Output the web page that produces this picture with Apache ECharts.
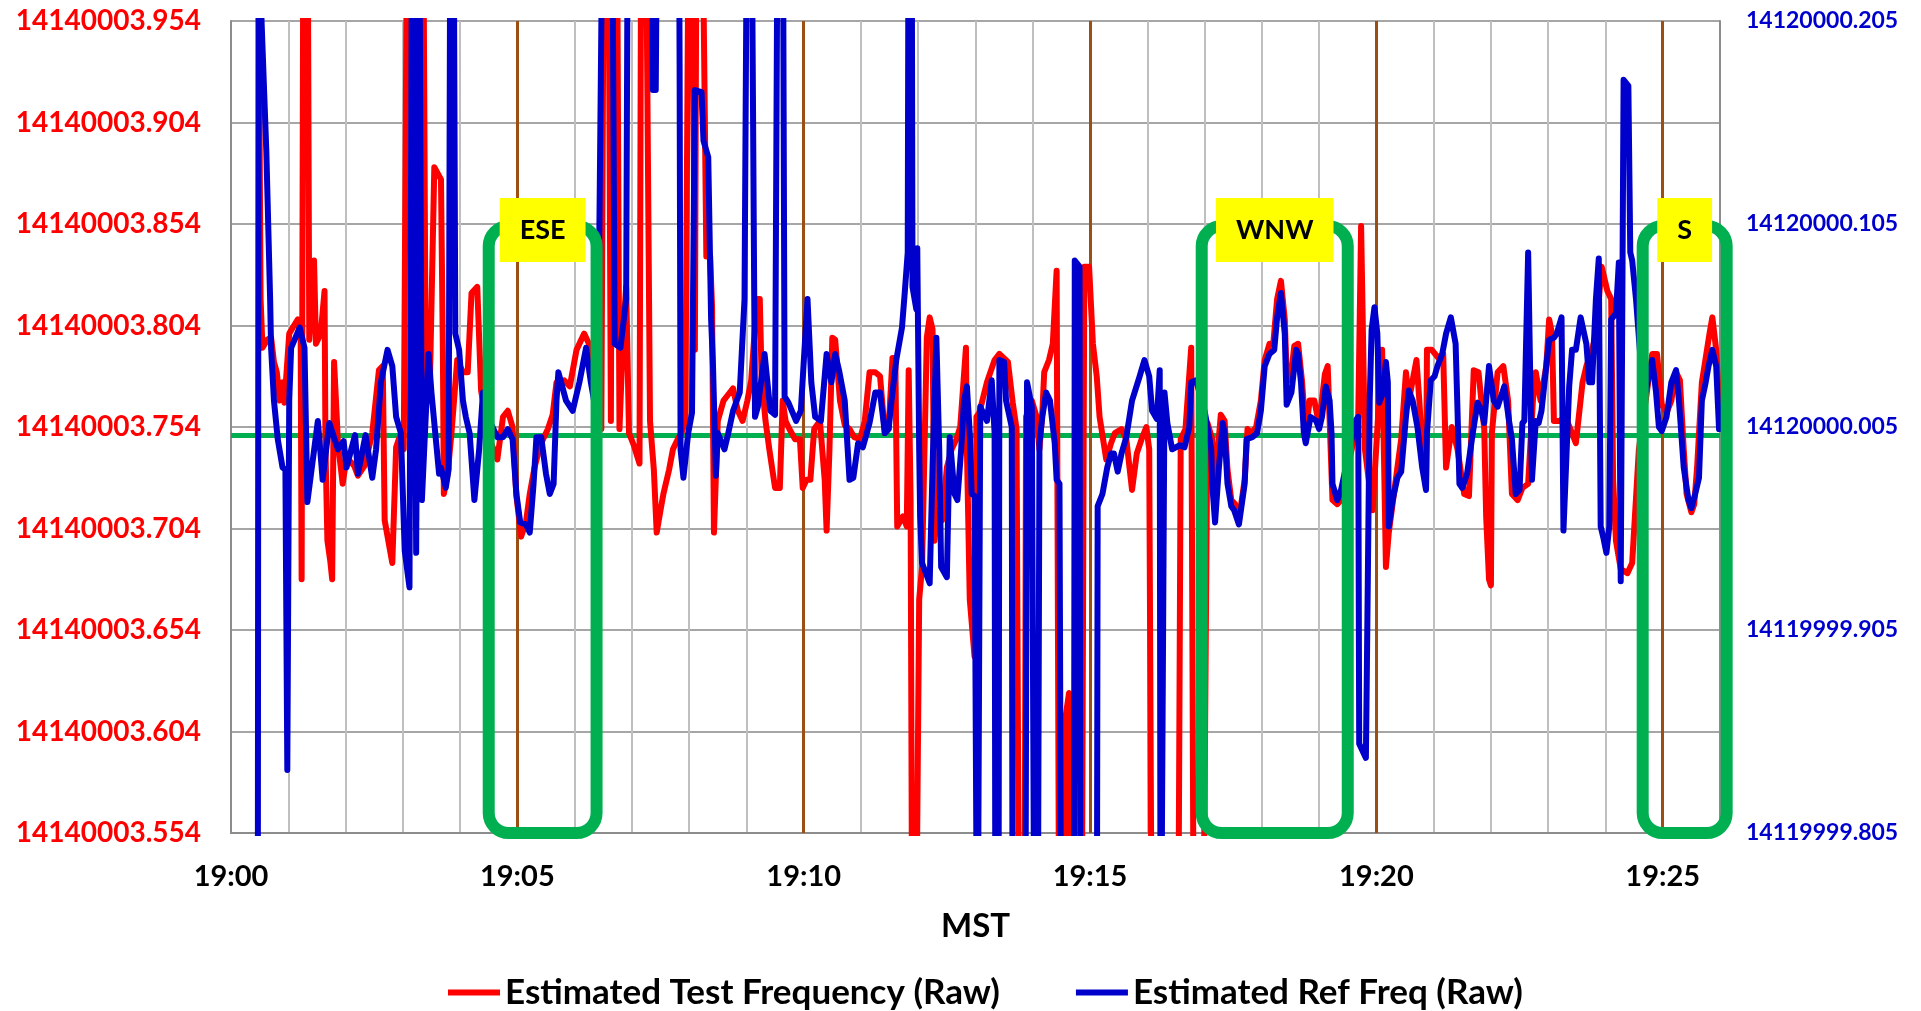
<!DOCTYPE html>
<html style="height: 100%">
<head>
    <meta charset="UTF-8">
    <title>Estimated Test / Ref Frequency</title>
</head>
<body style="height: 100%; margin: 0; background: #fff">
<div id="container" style="width: 1921px; height: 1011px"></div>

<script type="text/javascript" src="https://cdn.jsdelivr.net/npm/echarts@6/dist/echarts.min.js"></script>
<script type="text/javascript">
    // time = seconds after 19:00:00 MST
    // values above / below the axis range are spikes that run off the plot
    var testSec = [28,31,33,38,42,45,48,51,54,56,61,66,70,73,74,76,80,82,87,89,94,98,99,101,104,106,108,111,112,117,121,129,133,140,148,155,159,161,169,173,178,181,185,191,194,197,201,204,208,213,220,222,223,227,231,237,243,248,252,258,262,271,279,285,290,295,299,304,309,313,318,324,332,337,341,349,355,362,370,375,379,384,388,391,395,398,400,404,407,411,414,417,422,428,430,434,439,443,446,450,453,459,463,468,472,476,480,483,486,488,493,496,498,502,504,506,508,510,516,521,526,531,536,541,545,551,554,556,560,564,570,575,578,581,585,591,596,599,603,607,611,617,622,624,627,630,633,638,643,648,653,659,664,669,675,680,685,689,693,696,698,704,708,710,712,714,717,721,724,729,732,735,737,740,745,750,755,760,764,770,771,774,779,781,784,792,800,805,814,819,823,826,831,833,839,844,847,850,852,857,861,865,868,872,874,878,880,891,894,899,903,907,910,917,922,926,933,938,944,949,954,959,962,965,992,995,1000,1006,1009,1018,1023,1028,1031,1034,1037,1041,1044,1048,1052,1056,1062,1065,1069,1074,1079,1083,1088,1092,1096,1100,1104,1106,1110,1114,1118,1122,1126,1130,1135,1140,1146,1149,1154,1159,1163,1172,1181,1184,1186,1188,1196,1201,1206,1210,1213,1222,1226,1231,1234,1242,1245,1248,1252,1253,1258,1265,1270,1273,1279,1285,1292,1297,1302,1307,1313,1315,1318,1320,1321,1327,1333,1338,1342,1348,1353,1359,1364,1367,1372,1378,1381,1384,1386,1392,1398,1405,1409,1416,1420,1425,1430,1436,1442,1446,1448,1451,1456,1463,1468,1475,1489,1494,1499,1504,1509,1514,1518,1522,1525,1530,1533,1536,1541,1549,1552,1556,1559];
    var testFreq = [14140004.05,14140003.817,14140003.793,14140003.797,14140003.798,14140003.786,14140003.781,14140003.767,14140003.776,14140003.766,14140003.800,14140003.804,14140003.807,14140003.797,14140003.679,14140004.05,14140004.05,14140003.797,14140003.836,14140003.795,14140003.800,14140003.821,14140003.743,14140003.698,14140003.688,14140003.679,14140003.786,14140003.757,14140003.746,14140003.726,14140003.739,14140003.735,14140003.730,14140003.735,14140003.751,14140003.782,14140003.784,14140003.708,14140003.687,14140003.744,14140003.751,14140003.743,14140004.05,14140004.05,14140003.708,14140004.05,14140004.05,14140003.777,14140003.767,14140003.882,14140003.876,14140003.790,14140003.721,14140003.731,14140003.751,14140003.787,14140003.781,14140003.781,14140003.820,14140003.823,14140003.772,14140003.748,14140003.738,14140003.759,14140003.762,14140003.754,14140003.720,14140003.700,14140003.707,14140003.721,14140003.734,14140003.745,14140003.753,14140003.760,14140003.776,14140003.777,14140003.774,14140003.792,14140003.800,14140003.795,14140003.776,14140003.753,14140003.753,14140004.05,14140004.05,14140003.757,14140004.05,14140004.05,14140003.753,14140003.802,14140003.823,14140003.751,14140003.745,14140003.736,14140004.05,14140004.05,14140003.757,14140003.733,14140003.702,14140003.713,14140003.721,14140003.733,14140003.743,14140003.748,14140003.751,14140003.757,14140004.05,14140004.05,14140003.792,14140004.05,14140004.05,14140003.925,14140003.838,14140003.838,14140003.813,14140003.702,14140003.702,14140003.757,14140003.767,14140003.770,14140003.773,14140003.762,14140003.757,14140003.767,14140003.777,14140003.817,14140003.817,14140003.777,14140003.757,14140003.743,14140003.724,14140003.724,14140003.767,14140003.757,14140003.753,14140003.748,14140003.748,14140003.724,14140003.728,14140003.728,14140003.753,14140003.757,14140003.728,14140003.703,14140003.743,14140003.798,14140003.797,14140003.767,14140003.755,14140003.753,14140003.749,14140003.748,14140003.757,14140003.781,14140003.781,14140003.779,14140003.751,14140003.753,14140003.788,14140003.788,14140003.705,14140003.710,14140003.705,14140003.782,14140003.718,14140003.45,14140003.45,14140003.669,14140003.685,14140003.798,14140003.808,14140003.802,14140003.698,14140003.713,14140003.708,14140003.734,14140003.743,14140003.748,14140003.754,14140003.793,14140003.743,14140003.669,14140003.641,14140003.759,14140003.761,14140003.776,14140003.787,14140003.790,14140003.786,14140003.766,14140003.753,14140003.45,14140003.45,14140003.759,14140003.767,14140003.759,14140003.743,14140003.761,14140003.781,14140003.787,14140003.795,14140003.831,14140003.45,14140003.45,14140003.610,14140003.623,14140003.45,14140003.45,14140003.833,14140003.833,14140003.795,14140003.779,14140003.759,14140003.738,14140003.746,14140003.751,14140003.753,14140003.748,14140003.723,14140003.741,14140003.748,14140003.754,14140003.743,14140003.45,14140003.45,14140003.748,14140003.753,14140003.793,14140003.45,14140003.45,14140003.756,14140003.748,14140003.723,14140003.743,14140003.760,14140003.757,14140003.733,14140003.718,14140003.716,14140003.708,14140003.728,14140003.753,14140003.751,14140003.754,14140003.767,14140003.787,14140003.795,14140003.795,14140003.817,14140003.826,14140003.807,14140003.780,14140003.777,14140003.794,14140003.795,14140003.777,14140003.751,14140003.767,14140003.767,14140003.755,14140003.780,14140003.784,14140003.718,14140003.716,14140003.718,14140003.738,14140003.759,14140003.853,14140003.853,14140003.743,14140003.713,14140003.753,14140003.792,14140003.685,14140003.702,14140003.734,14140003.748,14140003.781,14140003.767,14140003.787,14140003.767,14140003.743,14140003.724,14140003.792,14140003.792,14140003.788,14140003.790,14140003.734,14140003.754,14140003.743,14140003.721,14140003.720,14140003.782,14140003.781,14140003.753,14140003.710,14140003.679,14140003.676,14140003.751,14140003.781,14140003.784,14140003.767,14140003.721,14140003.718,14140003.724,14140003.726,14140003.767,14140003.781,14140003.767,14140003.784,14140003.807,14140003.800,14140003.757,14140003.757,14140003.759,14140003.751,14140003.746,14140003.776,14140003.784,14140003.790,14140003.800,14140003.833,14140003.821,14140003.817,14140003.728,14140003.698,14140003.684,14140003.682,14140003.687,14140003.743,14140003.790,14140003.790,14140003.765,14140003.761,14140003.767,14140003.781,14140003.777,14140003.743,14140003.721,14140003.712,14140003.716,14140003.734,14140003.776,14140003.800,14140003.808,14140003.792,14140003.767];

    var refSec = [28,29,32,37,41,42,45,49,54,57,59,61,63,72,77,80,91,96,103,112,118,121,130,133,141,148,152,157,164,169,173,178,182,187,190,194,197,200,207,210,215,218,220,225,228,230,233,235,239,243,246,250,255,260,264,271,279,285,290,295,299,303,309,313,317,320,325,330,334,338,341,343,347,351,358,365,372,377,384,390,399,402,408,414,416,440,442,445,447,469,470,471,474,479,483,486,493,495,500,503,505,508,510,517,521,526,533,538,541,545,549,552,559,565,570,573,578,580,584,592,597,604,608,612,618,624,629,633,637,643,648,652,657,662,669,675,680,685,689,692,697,703,706,709,710,713,714,718,719,721,722,724,732,735,739,742,744,750,753,758,761,765,768,771,774,776,779,782,785,792,797,800,801,804,805,810,812,818,819,832,834,839,842,845,847,850,854,858,863,865,868,870,883,884,889,890,907,908,913,918,922,925,929,933,938,944,952,957,962,965,970,973,974,976,978,981,986,994,999,1004,1006,1011,1020,1023,1027,1028,1031,1035,1039,1041,1044,1048,1051,1056,1062,1064,1070,1075,1079,1083,1088,1093,1096,1100,1104,1106,1111,1116,1118,1121,1124,1126,1131,1137,1140,1143,1147,1151,1153,1154,1159,1163,1172,1178,1181,1182,1189,1190,1193,1195,1198,1201,1203,1207,1210,1212,1213,1217,1222,1226,1231,1234,1238,1243,1248,1252,1253,1257,1261,1264,1269,1273,1278,1283,1285,1287,1290,1295,1301,1306,1310,1313,1318,1323,1327,1334,1339,1342,1346,1350,1353,1355,1359,1361,1363,1367,1370,1373,1378,1381,1386,1389,1394,1396,1399,1402,1405,1409,1414,1420,1423,1426,1430,1433,1435,1438,1441,1444,1446,1451,1454,1456,1459,1464,1466,1468,1472,1480,1489,1493,1496,1499,1504,1509,1514,1517,1522,1527,1530,1534,1538,1541,1545,1548,1552,1556,1559];
    var refFreq = [14119999.70,14120000.30,14120000.205,14120000.141,14120000.068,14120000.044,14120000.018,14119999.999,14119999.985,14119999.984,14119999.836,14120000.018,14120000.044,14120000.054,14120000.044,14119999.968,14120000.008,14119999.979,14120000.007,14119999.994,14119999.998,14119999.985,14120000.001,14119999.982,14120000.001,14119999.980,14119999.994,14120000.027,14120000.043,14120000.035,14120000.010,14120000.002,14119999.944,14119999.926,14120000.30,14119999.943,14120000.30,14119999.969,14120000.041,14120000.022,14119999.997,14119999.982,14119999.985,14119999.975,14119999.984,14120000.30,14120000.30,14120000.051,14120000.043,14120000.018,14120000.010,14120000.002,14119999.969,14119999.994,14120000.022,14120000.008,14120000.000,14120000.000,14120000.004,14119999.999,14119999.972,14119999.958,14119999.957,14119999.953,14119999.977,14120000.000,14120000.000,14119999.982,14119999.972,14119999.977,14120000.018,14120000.032,14120000.025,14120000.018,14120000.013,14120000.027,14120000.044,14120000.027,14120000.008,14120000.30,14120000.30,14120000.046,14120000.044,14120000.068,14120000.30,14120000.30,14120000.171,14120000.171,14120000.30,14120000.30,14120000.184,14119999.994,14119999.980,14120000.002,14120000.012,14120000.171,14120000.170,14120000.146,14120000.138,14120000.058,14120000.035,14119999.981,14120000.002,14119999.994,14120000.002,14120000.013,14120000.022,14120000.068,14120000.30,14120000.30,14120000.010,14120000.015,14120000.041,14120000.013,14120000.011,14120000.30,14120000.30,14120000.020,14120000.017,14120000.008,14120000.013,14120000.068,14120000.027,14120000.010,14120000.008,14120000.041,14120000.027,14120000.041,14120000.033,14120000.018,14119999.979,14119999.980,14119999.997,14119999.995,14120000.007,14120000.022,14120000.022,14120000.002,14120000.004,14120000.018,14120000.038,14120000.054,14120000.072,14120000.091,14120000.30,14120000.30,14120000.074,14120000.063,14120000.093,14119999.994,14119999.961,14119999.938,14119999.928,14119999.985,14120000.049,14119999.994,14119999.936,14119999.931,14120000.000,14119999.972,14119999.969,14119999.994,14120000.018,14120000.025,14120000.002,14119999.972,14119999.971,14119999.70,14120000.015,14120000.008,14120000.028,14120000.002,14119999.70,14119999.70,14120000.038,14120000.037,14120000.018,14120000.005,14119999.70,14119999.70,14120000.027,14120000.015,14119999.70,14119999.70,14119999.997,14120000.010,14120000.022,14120000.018,14119999.997,14119999.979,14119999.977,14119999.70,14119999.70,14120000.087,14120000.084,14119999.70,14119999.70,14119999.966,14119999.972,14119999.985,14119999.992,14119999.992,14119999.983,14119999.992,14120000.000,14120000.018,14120000.030,14120000.038,14120000.030,14120000.013,14120000.009,14120000.033,14119999.70,14119999.70,14120000.022,14120000.007,14119999.994,14119999.996,14119999.995,14120000.005,14120000.027,14120000.028,14120000.013,14120000.005,14119999.994,14119999.977,14119999.958,14119999.985,14120000.007,14120000.002,14119999.977,14119999.966,14119999.964,14119999.957,14119999.977,14119999.999,14120000.000,14120000.002,14120000.013,14120000.035,14120000.041,14120000.043,14120000.059,14120000.071,14120000.051,14120000.016,14120000.022,14120000.043,14120000.041,14120000.027,14120000.002,14119999.997,14120000.010,14120000.008,14120000.004,14120000.010,14120000.025,14120000.018,14120000.002,14119999.977,14119999.969,14119999.974,14119999.994,14120000.008,14120000.010,14119999.849,14119999.842,14119999.884,14120000.018,14120000.053,14120000.064,14120000.051,14120000.017,14120000.022,14120000.037,14120000.027,14119999.956,14119999.969,14119999.980,14119999.983,14120000.010,14120000.023,14120000.018,14120000.005,14119999.985,14119999.974,14120000.002,14120000.028,14120000.030,14120000.035,14120000.041,14120000.051,14120000.059,14120000.046,14120000.013,14119999.977,14119999.975,14119999.982,14120000.002,14120000.017,14120000.013,14120000.007,14120000.035,14120000.018,14120000.015,14120000.025,14120000.008,14119999.999,14119999.972,14119999.974,14120000.007,14120000.008,14120000.091,14120000.091,14119999.979,14120000.008,14120000.007,14120000.013,14120000.035,14120000.048,14120000.049,14120000.051,14120000.059,14119999.954,14119999.989,14120000.025,14120000.043,14120000.043,14120000.059,14120000.046,14120000.027,14120000.027,14120000.068,14120000.088,14119999.956,14119999.950,14119999.943,14119999.956,14120000.058,14120000.061,14120000.086,14119999.929,14120000.176,14120000.173,14120000.091,14120000.087,14120000.068,14120000.018,14120000.038,14120000.022,14120000.005,14120000.003,14120000.010,14120000.027,14120000.033,14120000.018,14119999.985,14119999.969,14119999.965,14119999.972,14119999.980,14120000.018,14120000.027,14120000.035,14120000.043,14120000.035,14120000.004];

    var testTickLabels = ['14140003.554','14140003.604','14140003.654','14140003.704','14140003.754',
        '14140003.804','14140003.854','14140003.904','14140003.954'];
    var refTickLabels = ['14119999.805','14119999.905','14120000.005','14120000.105','14120000.205'];
    var timeLabels = ['19:00','19:05','19:10','19:15','19:20','19:25'];

    var nominalTest = 14140003.754;          // green reference line
    var fiveMinMarks = [300, 600, 900, 1200, 1500];

    // antenna direction windows (seconds after 19:00)
    var windowLabels = ['ESE', 'WNW', 'S'];
    var windowFrom = [270, 1017, 1479];
    var windowTo = [383, 1170, 1567];
    var windowTop = 14140003.853;
    var windowBottom = 14140003.554;

    var dom = document.getElementById('container');
    var myChart = echarts.init(dom, null, {renderer: 'canvas'});

    var testTicks = testTickLabels.map(Number);
    var refTicks = refTickLabels.map(Number);

    var guideLines = [{yAxis: nominalTest, lineStyle: {color: '#00B050', width: 5, type: 'solid'}}];
    fiveMinMarks.forEach(function (s) {
        guideLines.push({xAxis: s, lineStyle: {color: '#9C4F14', width: 3, type: 'solid'}});
    });

    var option = {
        animation: false,
        backgroundColor: '#ffffff',
        textStyle: {fontFamily: 'Lato'},
        grid: {left: 231, top: 21, width: 1489, height: 812, containLabel: false},
        legend: {
            data: ['Estimated Test Frequency (Raw)', 'Estimated Ref Freq (Raw)'],
            top: 970,
            left: 443,
            icon: 'rect',
            itemWidth: 52,
            itemHeight: 6,
            itemGap: 76,
            textStyle: {fontFamily: 'Lato', fontWeight: 'bold', fontSize: 35, color: '#000'}
        },
        xAxis: {
            type: 'value',
            min: 0,
            max: 1560,
            interval: 60,
            name: 'MST',
            nameLocation: 'middle',
            nameGap: 77,
            nameTextStyle: {fontFamily: 'Lato', fontWeight: 'bold', fontSize: 33, color: '#000'},
            axisLine: {lineStyle: {color: '#8C8C8C', width: 2}},
            axisTick: {show: false},
            axisLabel: {
                margin: 29,
                fontFamily: 'Lato', fontWeight: 'bold', fontSize: 29, color: '#000',
                formatter: function (v) {
                    return v % 300 === 0 ? (timeLabels[v / 300] || '') : '';
                }
            },
            splitLine: {show: true, lineStyle: {color: '#BFBFBF', width: 2}}
        },
        yAxis: [{
            type: 'value',
            min: testTicks[0],
            max: testTicks[testTicks.length - 1],
            position: 'left',
            axisLine: {show: true, lineStyle: {color: '#8C8C8C', width: 2}},
            axisTick: {show: false, customValues: testTicks},
            axisLabel: {
                customValues: testTicks,
                margin: 30,
                fontFamily: 'Lato', fontWeight: 'bold', fontSize: 28, color: '#FF0000',
                formatter: function (v) { return v.toFixed(3); }
            },
            splitLine: {show: true, lineStyle: {color: '#A6A6A6', width: 2}}
        }, {
            type: 'value',
            min: refTicks[0],
            max: refTicks[refTicks.length - 1],
            position: 'right',
            axisLine: {show: true, lineStyle: {color: '#8C8C8C', width: 2}},
            axisTick: {show: false, customValues: refTicks},
            axisLabel: {
                customValues: refTicks,
                margin: 26,
                fontFamily: 'Lato', fontWeight: 'bold', fontSize: 23, color: '#0000CC',
                formatter: function (v) { return v.toFixed(3); }
            },
            splitLine: {show: false}
        }],
        series: [{
            name: 'guides',
            type: 'line',
            data: [],
            z: 1,
            silent: true,
            markLine: {
                z: 1,
                silent: true,
                symbol: ['none', 'none'],
                label: {show: false},
                emphasis: {disabled: true},
                data: guideLines
            }
        }, {
            name: 'Estimated Test Frequency (Raw)',
            type: 'line',
            yAxisIndex: 0,
            z: 3,
            clip: true,
            showSymbol: false,
            color: '#FF0000',
            lineStyle: {color: '#FF0000', width: 6, join: 'round', cap: 'round'},
            data: testSec.map(function (s, i) { return [s, testFreq[i]]; })
        }, {
            name: 'Estimated Ref Freq (Raw)',
            type: 'line',
            yAxisIndex: 1,
            z: 4,
            clip: true,
            showSymbol: false,
            color: '#0000CC',
            lineStyle: {color: '#0000CC', width: 6, join: 'round', cap: 'round'},
            data: refSec.map(function (s, i) { return [s, refFreq[i]]; })
        }, {
            name: 'windows',
            type: 'custom',
            yAxisIndex: 0,
            z: 10,
            silent: true,
            clip: false,
            data: windowFrom.map(function (s, i) { return [s, windowTo[i]]; }),
            renderItem: function (params, api) {
                var p0 = api.coord([api.value(0), windowTop]);
                var p1 = api.coord([api.value(1), windowBottom]);
                var label = windowLabels[params.dataIndex];
                return {
                    type: 'group',
                    children: [{
                        type: 'rect',
                        shape: {x: p0[0], y: p0[1], width: p1[0] - p0[0], height: p1[1] - p0[1], r: 20},
                        style: {fill: 'none', stroke: '#00B050', lineWidth: 12}
                    }, {
                        type: 'text',
                        x: (p0[0] + p1[0]) / 2,
                        y: p0[1] + 4,
                        style: {
                            text: label,
                            fontFamily: 'Lato',
                            fontWeight: 'bold',
                            fontSize: 27,
                            lineHeight: 28,
                            fill: '#000',
                            align: 'center',
                            verticalAlign: 'middle',
                            backgroundColor: '#FFFF00',
                            padding: [18, 20]
                        }
                    }]
                };
            }
        }]
    };

    myChart.setOption(option);
</script>
</body>
</html>
